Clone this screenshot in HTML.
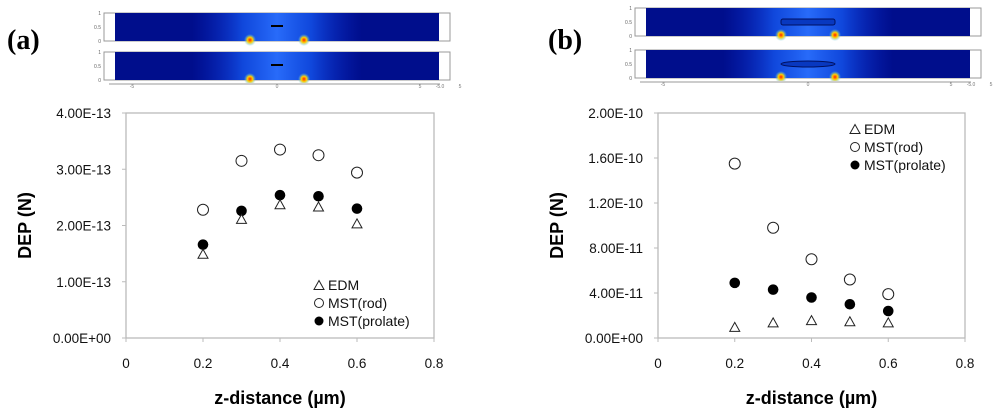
<!DOCTYPE html>
<html><head><meta charset="utf-8"><style>
body{margin:0;background:#fff}
svg{display:block;font-family:"Liberation Sans",Arial,sans-serif}
</style></head><body>
<svg id="s" width="1000" height="417" xmlns="http://www.w3.org/2000/svg">
<defs>
<linearGradient id="band" x1="0" x2="1" y1="0" y2="0">
<stop offset="0" stop-color="#0a2bd0" stop-opacity="0"/>
<stop offset="0.3" stop-color="#1456f0" stop-opacity="0.8"/>
<stop offset="0.5" stop-color="#2a70ff" stop-opacity="0.95"/>
<stop offset="0.7" stop-color="#1456f0" stop-opacity="0.8"/>
<stop offset="1" stop-color="#0a2bd0" stop-opacity="0"/>
</linearGradient>
<radialGradient id="hot" cx="0.5" cy="0.5" r="0.5">
<stop offset="0" stop-color="#ff2000"/><stop offset="0.45" stop-color="#ffd000"/><stop offset="1" stop-color="#40c0ff" stop-opacity="0"/>
</radialGradient>
</defs>
</svg>
<script>
const xTicks=[0,0.2,0.4,0.6,0.8];
const xs=[0.2,0.3,0.4,0.5,0.6];
const aTicks=["0.00E+00","1.00E-13","2.00E-13","3.00E-13","4.00E-13"];
const aTickVals=[0,1e-13,2e-13,3e-13,4e-13];
const aEDM=[1.48e-13,2.10e-13,2.36e-13,2.32e-13,2.02e-13];
const aRod=[2.28e-13,3.15e-13,3.35e-13,3.25e-13,2.94e-13];
const aProl=[1.66e-13,2.26e-13,2.54e-13,2.52e-13,2.30e-13];
const bTicks=["0.00E+00","4.00E-11","8.00E-11","1.20E-10","1.60E-10","2.00E-10"];
const bTickVals=[0,4e-11,8e-11,1.2e-10,1.6e-10,2e-10];
const bEDM=[0.9e-11,1.3e-11,1.5e-11,1.4e-11,1.3e-11];
const bRod=[15.5e-11,9.8e-11,7.0e-11,5.2e-11,3.9e-11];
const bProl=[4.9e-11,4.3e-11,3.6e-11,3.0e-11,2.4e-11];
const legendLabels=["EDM","MST(rod)","MST(prolate)"];

const svg=document.getElementById('s');
const NS="http://www.w3.org/2000/svg";
function mk(tag,at,parent){const e=document.createElementNS(NS,tag);for(const k in at)e.setAttribute(k,at[k]);(parent||svg).appendChild(e);return e;}

function sim(x0,x1,rows,ellipse,name){
  const g=mk('g',{});
  
  
  rows.forEach((y,i)=>{
    mk('rect',{x:x0,y:y,width:x1-x0,height:28,fill:'#fff',stroke:'#999','stroke-width':1},g);
    mk('rect',{x:x0+11,y:y,width:x1-x0-22,height:28,fill:'#000e8c'},g);
    const cx=(x0+x1)/2;
    mk('rect',{x:cx-85,y:y,width:170,height:28,fill:'url(#band)'},g);
    mk('circle',{cx:cx-27,cy:y+27,r:6,fill:'url(#hot)'},g);
    mk('circle',{cx:cx+27,cy:y+27,r:6,fill:'url(#hot)'},g);
    if(ellipse){
      if(i==0) mk('rect',{x:cx-27,y:y+11,width:54,height:6,rx:2,fill:'#0838c0',stroke:'#001060','stroke-width':1},g);
      else mk('ellipse',{cx:cx,cy:y+14,rx:27,ry:3,fill:'#0838c0',stroke:'#001060','stroke-width':1},g);
    } else mk('rect',{x:cx-6,y:y+12,width:12,height:2,fill:'#000'},g);
    [["1",0],["0.5",14],["0",28]].forEach(t=>{const tt=mk('text',{x:x0-3,y:y+t[1]+2,'font-size':5,fill:'#666','text-anchor':'end'},g);tt.textContent=t[0];});
  });
  const yb=rows[1]+32;
  mk('line',{x1:x0+5,y1:yb,x2:x1-10,y2:yb,stroke:'#ccc','stroke-width':2},g);
  const cx=(x0+x1)/2;
  [["-5",x0+28],["0",cx],["5",x1-30],["-5.0",x1-10],["5",x1+10]].forEach(t=>{const tt=mk('text',{x:t[1],y:yb+4,'font-size':5,fill:'#777','text-anchor':'middle'},g);tt.textContent=t[0];});
}

function panel(o){
  const {L,R,T,B,ymax,tickVals,tickLabels,edm,rod,prol,leg,letter,lx,ly,name}=o;
  const g=mk('g',{});
  
  
  const X=v=>L+(v-0)/(0.8)*(R-L);
  const Y=v=>B-v/ymax*(B-T);
  const lt=mk('text',{x:lx,y:ly,'font-size':28,'font-weight':'bold','font-family':'"Liberation Serif",serif'},g);
  
  
  lt.textContent=letter;
  const fr=mk('rect',{x:L,y:T,width:R-L,height:B-T,fill:'none',stroke:'#bbb','stroke-width':1.3},g);
  
  
  tickVals.forEach((v,i)=>{
    mk('line',{x1:L-4,y1:Y(v),x2:L,y2:Y(v),stroke:'#bbb'},g);
    const t=mk('text',{x:L-15,y:Y(v)+5,'font-size':13.5,'text-anchor':'end',fill:'#111'},g);
    
    
    t.textContent=tickLabels[i];
  });
  xTicks.forEach(v=>{
    mk('line',{x1:X(v),y1:B,x2:X(v),y2:B+4,stroke:'#bbb'},g);
    const t=mk('text',{x:X(v),y:B+30,'font-size':13.5,'text-anchor':'middle',fill:'#111'},g);
    
    
    t.textContent=String(v);
  });
  const yt=mk('text',{x:0,y:0,'font-size':18,'font-weight':'bold','text-anchor':'middle',transform:`translate(${L-95},${(T+B)/2}) rotate(-90)`},g);
  
  
  yt.textContent='DEP (N)';
  const xt=mk('text',{x:(L+R)/2,y:B+66,'font-size':18,'font-weight':'bold','text-anchor':'middle'},g);
  
  
  xt.textContent='z-distance (µm)';
  function tri(cx,cy,p){const e=mk('path',{d:`M${cx},${cy-5.5}L${cx+5},${cy+3.5}L${cx-5},${cy+3.5}Z`,fill:'#fff',stroke:'#222','stroke-width':1},p);return e;}
  xs.forEach((x,i)=>{
    const a=mk('circle',{cx:X(x),cy:Y(rod[i]),r:5.5,fill:'#fff',stroke:'#222','stroke-width':1},g);
    
    
    const b=mk('circle',{cx:X(x),cy:Y(prol[i]),r:5.3,fill:'#000'},g);
    
    
    const c=tri(X(x),Y(edm[i]),g);
    
    
  });
  const lg=mk('g',{},g);
  
  
  legendLabels.forEach((s,i)=>{
    const y=leg[1]+i*18;
    if(i==0)tri(leg[0],y+1,lg);
    else if(i==1)mk('circle',{cx:leg[0],cy:y,r:4.5,fill:'#fff',stroke:'#222'},lg);
    else mk('circle',{cx:leg[0],cy:y,r:4.5,fill:'#000'},lg);
    const t=mk('text',{x:leg[0]+9,y:y+5,'font-size':14,fill:'#111'},lg);
    
    
    t.textContent=s;
  });
}
sim(104,450,[13,52],false,'simulation-a');
sim(635,981,[8,50],true,'simulation-b');
panel({L:126,R:434,T:113,B:338,ymax:4e-13,tickVals:aTickVals,tickLabels:aTicks,edm:aEDM,rod:aRod,prol:aProl,leg:[319,285],letter:'(a)',lx:7,ly:49,name:'chart-a'});
panel({L:658,R:965,T:113,B:338,ymax:2e-10,tickVals:bTickVals,tickLabels:bTicks,edm:bEDM,rod:bRod,prol:bProl,leg:[855,129],letter:'(b)',lx:548,ly:49,name:'chart-b'});
</script>
</body></html>
